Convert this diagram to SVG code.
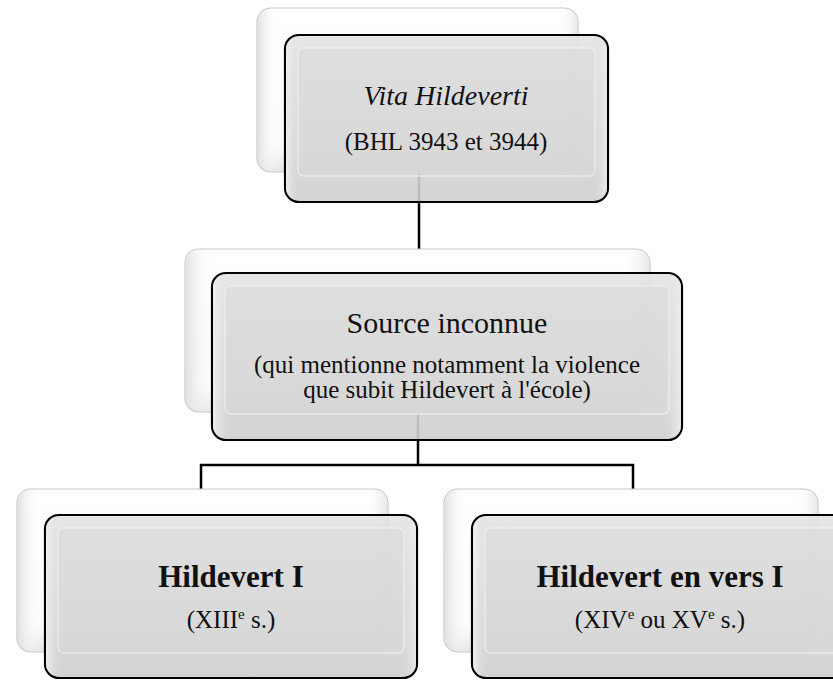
<svg xmlns="http://www.w3.org/2000/svg" width="833" height="680" viewBox="0 0 833 680">
  <defs>
    <linearGradient id="gBack" x1="0" y1="0" x2="0" y2="1">
      <stop offset="0" stop-color="#ffffff"/>
      <stop offset="0.85" stop-color="#fbfbfb"/>
      <stop offset="1" stop-color="#e6e6e6"/>
    </linearGradient>
    <linearGradient id="gBackSide" x1="0" y1="0" x2="1" y2="0">
      <stop offset="0" stop-color="#e2e2e2"/>
      <stop offset="0.06" stop-color="#ffffff" stop-opacity="0"/>
      <stop offset="0.94" stop-color="#ffffff" stop-opacity="0"/>
      <stop offset="1" stop-color="#e8e8e8"/>
    </linearGradient>
    <linearGradient id="gFront" x1="0" y1="0" x2="0" y2="1">
      <stop offset="0" stop-color="#e4e4e4"/>
      <stop offset="0.5" stop-color="#d9d9d9"/>
      <stop offset="1" stop-color="#cfcfcf"/>
    </linearGradient>
    <linearGradient id="gFrontSide" x1="0" y1="0" x2="1" y2="0">
      <stop offset="0" stop-color="#f4f4f4"/>
      <stop offset="0.04" stop-color="#d9d9d9" stop-opacity="0"/>
      <stop offset="0.96" stop-color="#d9d9d9" stop-opacity="0"/>
      <stop offset="1" stop-color="#f0f0f0"/>
    </linearGradient>
  </defs>
  <style>
    .back { fill: url(#gBack); stroke: #c8c8c8; stroke-width: 1.2; }
    .backSide { fill: url(#gBackSide); stroke: none; }
    .front { fill: url(#gFront); fill-opacity: 0.9; stroke: #000; stroke-width: 2.2; }
    .frontSide { fill: url(#gFrontSide); fill-opacity: 0.8; stroke: none; }
    .inner { fill: #d8d8d8; fill-opacity: 0.55; stroke: #efefef; stroke-opacity: 0.8; stroke-width: 1.5; }
    .conn { fill: none; stroke: #000; stroke-width: 2.5; }
    text { font-family: "Liberation Serif", "Times New Roman", serif; fill: #111; text-anchor: middle; }
    .t-it { font-style: italic; font-size: 28px; }
    .t-reg { font-size: 30px; }
    .t-bold { font-weight: bold; font-size: 31px; }
    .sub { font-size: 25px; }
  </style>

  <g id="connectors">
    <line class="conn" x1="419" y1="172" x2="419" y2="249"/>
    <line class="conn" x1="418" y1="412" x2="418" y2="465"/>
    <polyline class="conn" points="201,489 201,465 633,465 633,489"/>
  </g>

  <g id="node-vita">
    <rect class="back" x="257" y="8" width="321" height="164" rx="14"/>
    <rect class="backSide" x="258" y="9" width="319" height="162" rx="13"/>
    <rect class="front" x="285" y="35" width="323" height="167" rx="14"/>
    <rect class="frontSide" x="286" y="36" width="321" height="165" rx="13"/>
    <rect class="inner" x="298" y="48" width="297" height="128" rx="6"/>
    <text class="t-it" x="446" y="105">Vita Hildeverti</text>
    <text class="sub" x="446" y="150">(BHL 3943 et 3944)</text>
  </g>

  <g id="node-source">
    <rect class="back" x="185" y="249" width="465" height="163" rx="14"/>
    <rect class="backSide" x="186" y="250" width="463" height="161" rx="13"/>
    <rect class="front" x="212" y="273" width="470" height="167" rx="14"/>
    <rect class="frontSide" x="213" y="274" width="468" height="165" rx="13"/>
    <rect class="inner" x="225" y="286" width="444" height="128" rx="6"/>
    <text class="t-reg" x="447" y="333">Source inconnue</text>
    <text class="sub" x="447" y="373">(qui mentionne notamment la violence</text>
    <text class="sub" x="447" y="398">que subit Hildevert à l'école)</text>
  </g>

  <g id="node-hildevert1">
    <rect class="back" x="17" y="489" width="371" height="163" rx="14"/>
    <rect class="backSide" x="18" y="490" width="369" height="161" rx="13"/>
    <rect class="front" x="45" y="515" width="372" height="163" rx="14"/>
    <rect class="frontSide" x="46" y="516" width="370" height="161" rx="13"/>
    <rect class="inner" x="58" y="528" width="346" height="125" rx="6"/>
    <text class="t-bold" x="231" y="587">Hildevert I</text>
    <text class="sub" x="231" y="628">(XIII<tspan font-size="15" dy="-9">e</tspan><tspan dy="9"> s.)</tspan></text>
  </g>

  <g id="node-vers1">
    <rect class="back" x="444" y="489" width="374" height="163" rx="14"/>
    <rect class="backSide" x="445" y="490" width="372" height="161" rx="13"/>
    <rect class="front" x="472" y="515" width="385" height="163" rx="14"/>
    <rect class="frontSide" x="473" y="516" width="383" height="161" rx="13"/>
    <rect class="inner" x="485" y="528" width="360" height="125" rx="6"/>
    <text class="t-bold" x="660" y="587">Hildevert en vers I</text>
    <text class="sub" x="660" y="628">(XIV<tspan font-size="15" dy="-9">e</tspan><tspan dy="9"> ou XV</tspan><tspan font-size="15" dy="-9">e</tspan><tspan dy="9"> s.)</tspan></text>
  </g>
</svg>
